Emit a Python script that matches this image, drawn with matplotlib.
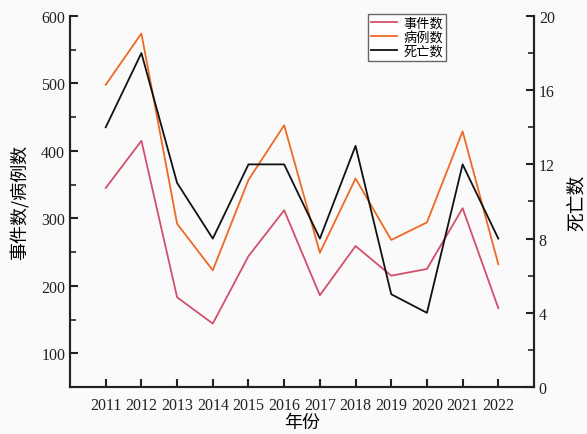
import matplotlib
matplotlib.use("Agg")
import matplotlib.pyplot as plt
from matplotlib.ticker import MultipleLocator

plt.rcParams["font.family"] = ["Liberation Serif", "Noto Sans CJK SC"]

years = [2011, 2012, 2013, 2014, 2015, 2016, 2017, 2018, 2019, 2020, 2021, 2022]
events = [345, 415, 183, 144, 244, 312, 186, 259, 215, 225, 315, 167]
cases = [498, 574, 292, 223, 357, 438, 249, 359, 268, 294, 429, 232]
deaths = [14, 18, 11, 8, 12, 12, 8, 13, 5, 4, 12, 8]

cjk = ["Noto Sans CJK SC", "DejaVu Sans"]

fig = plt.figure(figsize=(5.87, 4.35), dpi=100)
fig.patch.set_facecolor("#fafafa")
ax = fig.add_axes([0.1193, 0.108, 0.7904, 0.853])
ax.set_facecolor("#fafafa")
ax2 = ax.twinx()

l1, = ax.plot(years, events, color="#d2506c", lw=1.3, label="事件数")
l2, = ax.plot(years, cases, color="#ee6a24", lw=1.3, label="病例数")
l3, = ax2.plot(years, deaths, color="#111111", lw=1.3, label="死亡数")

ax.set_xlim(2010, 2023)
ax.set_ylim(50, 600)
ax2.set_ylim(0, 20)
ax.set_xticks(years)
ax.yaxis.set_major_locator(MultipleLocator(100))
ax.yaxis.set_minor_locator(MultipleLocator(50))
ax.set_yticks(range(100, 601, 100))
ax2.yaxis.set_major_locator(MultipleLocator(4))
ax2.yaxis.set_minor_locator(MultipleLocator(2))

for a in (ax, ax2):
    a.spines["top"].set_visible(False)
    for s in a.spines.values():
        s.set_linewidth(1.5)
        s.set_color("#222222")
    a.tick_params(which="major", direction="in", length=6, width=1.5,
                  labelsize=11.5, colors="#222222")
    a.tick_params(which="minor", direction="in", length=4, width=1.2,
                  colors="#222222")
ax.tick_params(axis="x", pad=7)

ax.set_xlabel("年份", family=cjk, fontsize=13, labelpad=0)
ax.set_ylabel("事件数/病例数", family=cjk, fontsize=13, labelpad=8)
ax2.set_ylabel("死亡数", family=cjk, fontsize=13.5, labelpad=8)

leg = ax.legend(handles=[l1, l2, l3], loc="upper left",
                bbox_to_anchor=(0.642, 1.006), prop={"family": cjk, "size": 9.5},
                fancybox=False, framealpha=1, edgecolor="#666666",
                borderpad=0.2, labelspacing=0.1, handlelength=2.0,
                handletextpad=0.5, borderaxespad=0)
leg.get_frame().set_linewidth(1.0)

fig.savefig("out.png", dpi=100, facecolor=fig.get_facecolor())
